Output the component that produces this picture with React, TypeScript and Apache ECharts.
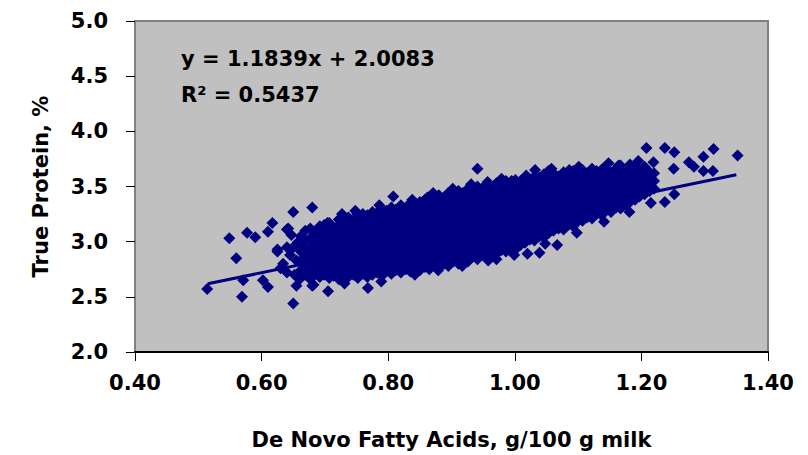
import React, { useEffect, useRef } from "react";
import * as echarts from "echarts";

// Axis ticks
const xTicks = [0.4, 0.6, 0.8, 1.0, 1.2, 1.4];
const yTicks = [2.0, 2.5, 3.0, 3.5, 4.0, 4.5, 5.0];

// Trendline (from the chart's equation)
const slope = 1.1839;
const intercept = 2.0083;
const rSquared = 0.5437;
const trendRange = [0.515, 1.35];

// Scattered points at the edges of the cloud (De Novo FA, True Protein)
const outlierX = [
  0.514, 0.549, 0.56, 0.569, 0.571, 0.577, 0.59, 0.602, 0.61, 0.61, 0.617, 0.625, 0.625, 0.63, 0.634,
  0.64, 0.64, 0.64, 0.642, 0.645, 0.647, 0.65, 0.65, 0.65, 0.652, 0.655, 0.655, 0.658, 0.66, 0.68,
  0.68, 0.682, 0.704, 0.705, 0.727, 0.751, 0.768, 0.808, 0.862, 0.941, 0.957, 0.971, 0.995, 1.02,
  1.032, 1.039, 1.053, 1.067, 1.086, 1.139, 1.164, 1.164, 1.195, 1.208, 1.215, 1.219, 1.237, 1.237,
  1.251, 1.252, 1.252, 1.275, 1.283, 1.298, 1.298, 1.313, 1.314, 1.352,
];
const outlierY = [
  2.57, 3.03, 2.85, 2.5, 2.65, 3.08, 3.04, 2.65, 3.09, 2.59, 3.17, 2.91, 2.93, 2.76, 2.8,
  2.72, 2.95, 3.11, 3.12, 2.88, 3.06, 3.27, 2.95, 2.44, 2.7, 2.83, 2.6, 3.0, 2.66, 3.31,
  2.6, 2.61, 3.17, 2.55, 3.25, 3.25, 2.58, 3.41, 3.4, 3.66, 3.54, 2.84, 3.55, 2.89,
  3.65, 2.9, 3.64, 2.97, 3.65, 3.66, 3.68, 3.69, 3.73, 3.85, 3.35, 3.72, 3.85, 3.36,
  3.66, 3.81, 3.43, 3.72, 3.68, 3.77, 3.64, 3.64, 3.84, 3.78,
];

// Ragged points along the upper and lower rims of the cloud
const rimX = [
  0.748, 0.786, 0.838, 0.871, 0.902, 0.931, 0.979, 1.018, 1.058, 1.101, 1.148,
  0.731, 0.789, 0.842, 0.879, 0.917, 0.958, 0.999, 1.048, 1.098, 1.141, 1.181,
];
const rimY = [
  3.28, 3.33, 3.38, 3.44, 3.48, 3.52, 3.57, 3.6, 3.66, 3.68, 3.71,
  2.62, 2.64, 2.7, 2.74, 2.78, 2.83, 2.88, 2.98, 3.08, 3.18, 3.27,
];

// Dense cloud, read column by column: [De Novo FA, True Protein values]
const cloud: [number, number[]][] = [
  [0.662, [2.74, 2.83, 2.91, 2.97, 3.05]],
  [0.669, [2.7, 2.79, 2.86, 2.94, 3.01, 3.1]],
  [0.677, [2.66, 2.76, 2.82, 2.89, 2.95, 3.03, 3.12]],
  [0.684, [2.71, 2.78, 2.84, 2.9, 2.97, 3.04, 3.09]],
  [0.692, [2.68, 2.74, 2.81, 2.87, 2.93, 2.99, 3.06, 3.14]],
  [0.699, [2.7, 2.76, 2.83, 2.88, 2.95, 3.01, 3.08, 3.15]],
  [0.707, [2.67, 2.73, 2.79, 2.85, 2.91, 2.97, 3.03, 3.1, 3.17]],
  [0.714, [2.69, 2.75, 2.81, 2.87, 2.93, 2.99, 3.05, 3.12]],
  [0.722, [2.66, 2.72, 2.78, 2.84, 2.9, 2.96, 3.02, 3.08, 3.15, 3.2]],
  [0.729, [2.7, 2.76, 2.82, 2.88, 2.94, 3.0, 3.06, 3.13, 3.18]],
  [0.737, [2.68, 2.73, 2.79, 2.85, 2.91, 2.97, 3.03, 3.09, 3.16, 3.22]],
  [0.745, [2.7, 2.76, 2.82, 2.88, 2.94, 3.0, 3.06, 3.12, 3.19]],
  [0.752, [2.67, 2.73, 2.79, 2.85, 2.91, 2.97, 3.03, 3.09, 3.15, 3.23]],
  [0.76, [2.71, 2.77, 2.83, 2.89, 2.95, 3.01, 3.07, 3.13, 3.2, 3.25]],
  [0.767, [2.68, 2.74, 2.8, 2.86, 2.92, 2.98, 3.04, 3.1, 3.17, 3.24]],
  [0.775, [2.7, 2.76, 2.82, 2.88, 2.94, 3.0, 3.06, 3.12, 3.18, 3.27]],
  [0.782, [2.72, 2.78, 2.84, 2.9, 2.96, 3.02, 3.08, 3.14, 3.21, 3.26]],
  [0.79, [2.69, 2.75, 2.81, 2.87, 2.93, 2.99, 3.05, 3.11, 3.17, 3.24, 3.29]],
  [0.797, [2.73, 2.79, 2.85, 2.91, 2.97, 3.03, 3.09, 3.15, 3.21, 3.28]],
  [0.805, [2.71, 2.77, 2.83, 2.89, 2.95, 3.01, 3.07, 3.13, 3.19, 3.25, 3.31]],
  [0.812, [2.74, 2.8, 2.86, 2.92, 2.98, 3.04, 3.1, 3.16, 3.22, 3.29]],
  [0.82, [2.72, 2.78, 2.84, 2.9, 2.96, 3.02, 3.08, 3.14, 3.2, 3.26, 3.33]],
  [0.828, [2.75, 2.81, 2.87, 2.93, 2.99, 3.05, 3.11, 3.17, 3.23, 3.3]],
  [0.835, [2.73, 2.79, 2.85, 2.91, 2.97, 3.03, 3.09, 3.15, 3.21, 3.27, 3.35]],
  [0.843, [2.76, 2.82, 2.88, 2.94, 3.0, 3.06, 3.12, 3.18, 3.24, 3.31]],
  [0.85, [2.74, 2.8, 2.86, 2.92, 2.98, 3.04, 3.1, 3.16, 3.22, 3.28, 3.36]],
  [0.858, [2.77, 2.83, 2.89, 2.95, 3.01, 3.07, 3.13, 3.19, 3.25, 3.32, 3.38]],
  [0.865, [2.75, 2.81, 2.87, 2.93, 2.99, 3.05, 3.11, 3.17, 3.23, 3.29, 3.35]],
  [0.873, [2.79, 2.85, 2.91, 2.97, 3.03, 3.09, 3.15, 3.21, 3.27, 3.33, 3.39]],
  [0.88, [2.77, 2.83, 2.89, 2.95, 3.01, 3.07, 3.13, 3.19, 3.25, 3.31, 3.37, 3.42]],
  [0.888, [2.8, 2.86, 2.92, 2.98, 3.04, 3.1, 3.16, 3.22, 3.28, 3.34, 3.4]],
  [0.895, [2.78, 2.84, 2.9, 2.96, 3.02, 3.08, 3.14, 3.2, 3.26, 3.32, 3.38, 3.44]],
  [0.903, [2.82, 2.88, 2.94, 3.0, 3.06, 3.12, 3.18, 3.24, 3.3, 3.36, 3.42]],
  [0.911, [2.8, 2.86, 2.92, 2.98, 3.04, 3.1, 3.16, 3.22, 3.28, 3.34, 3.4, 3.46]],
  [0.918, [2.84, 2.9, 2.96, 3.02, 3.08, 3.14, 3.2, 3.26, 3.32, 3.38, 3.44]],
  [0.926, [2.82, 2.88, 2.94, 3.0, 3.06, 3.12, 3.18, 3.24, 3.3, 3.36, 3.42, 3.48]],
  [0.933, [2.86, 2.92, 2.98, 3.04, 3.1, 3.16, 3.22, 3.28, 3.34, 3.4, 3.46]],
  [0.941, [2.84, 2.9, 2.96, 3.02, 3.08, 3.14, 3.2, 3.26, 3.32, 3.38, 3.44, 3.5]],
  [0.948, [2.88, 2.94, 3.0, 3.06, 3.12, 3.18, 3.24, 3.3, 3.36, 3.42, 3.48]],
  [0.956, [2.87, 2.93, 2.99, 3.05, 3.11, 3.17, 3.23, 3.29, 3.35, 3.41, 3.47, 3.52]],
  [0.963, [2.9, 2.96, 3.02, 3.08, 3.14, 3.2, 3.26, 3.32, 3.38, 3.44, 3.5]],
  [0.971, [2.89, 2.95, 3.01, 3.07, 3.13, 3.19, 3.25, 3.31, 3.37, 3.43, 3.49, 3.53]],
  [0.978, [2.92, 2.98, 3.04, 3.1, 3.16, 3.22, 3.28, 3.34, 3.4, 3.46, 3.51]],
  [0.986, [2.91, 2.97, 3.03, 3.09, 3.15, 3.21, 3.27, 3.33, 3.39, 3.45, 3.5, 3.55]],
  [0.994, [2.94, 3.0, 3.06, 3.12, 3.18, 3.24, 3.3, 3.36, 3.42, 3.48, 3.53]],
  [1.001, [2.93, 2.99, 3.05, 3.11, 3.17, 3.23, 3.29, 3.35, 3.41, 3.47, 3.52, 3.56]],
  [1.009, [2.97, 3.03, 3.09, 3.15, 3.21, 3.27, 3.33, 3.39, 3.45, 3.51, 3.55]],
  [1.016, [2.99, 3.05, 3.11, 3.17, 3.23, 3.29, 3.35, 3.41, 3.47, 3.53, 3.57]],
  [1.024, [3.02, 3.08, 3.14, 3.2, 3.26, 3.32, 3.38, 3.44, 3.5, 3.55]],
  [1.031, [3.01, 3.07, 3.13, 3.19, 3.25, 3.31, 3.37, 3.43, 3.49, 3.54, 3.59]],
  [1.039, [3.05, 3.11, 3.17, 3.23, 3.29, 3.35, 3.41, 3.47, 3.53, 3.58]],
  [1.046, [3.04, 3.1, 3.16, 3.22, 3.28, 3.34, 3.4, 3.46, 3.52, 3.57, 3.61]],
  [1.054, [3.08, 3.14, 3.2, 3.26, 3.32, 3.38, 3.44, 3.5, 3.56, 3.6]],
  [1.061, [3.1, 3.16, 3.22, 3.28, 3.34, 3.4, 3.46, 3.52, 3.57, 3.62]],
  [1.069, [3.12, 3.18, 3.24, 3.3, 3.36, 3.42, 3.48, 3.54, 3.59]],
  [1.077, [3.11, 3.17, 3.23, 3.29, 3.35, 3.41, 3.47, 3.53, 3.58, 3.63]],
  [1.084, [3.15, 3.21, 3.27, 3.33, 3.39, 3.45, 3.51, 3.57, 3.61]],
  [1.092, [3.14, 3.2, 3.26, 3.32, 3.38, 3.44, 3.5, 3.56, 3.6, 3.64]],
  [1.099, [3.18, 3.24, 3.3, 3.36, 3.42, 3.48, 3.54, 3.59, 3.63]],
  [1.107, [3.19, 3.25, 3.31, 3.37, 3.43, 3.49, 3.55, 3.6, 3.65]],
  [1.114, [3.22, 3.28, 3.34, 3.4, 3.46, 3.52, 3.58, 3.62]],
  [1.122, [3.21, 3.27, 3.33, 3.39, 3.45, 3.51, 3.57, 3.61, 3.66]],
  [1.129, [3.25, 3.31, 3.37, 3.43, 3.49, 3.55, 3.6, 3.64]],
  [1.137, [3.24, 3.3, 3.36, 3.42, 3.48, 3.54, 3.59, 3.65]],
  [1.144, [3.28, 3.34, 3.4, 3.46, 3.52, 3.58, 3.63, 3.67]],
  [1.152, [3.27, 3.33, 3.39, 3.45, 3.51, 3.57, 3.62]],
  [1.16, [3.31, 3.37, 3.43, 3.49, 3.55, 3.61, 3.66]],
  [1.167, [3.3, 3.36, 3.42, 3.48, 3.54, 3.6, 3.65, 3.69]],
  [1.175, [3.34, 3.4, 3.46, 3.52, 3.58, 3.63]],
  [1.182, [3.36, 3.42, 3.48, 3.54, 3.6, 3.66, 3.7]],
  [1.19, [3.38, 3.44, 3.5, 3.56, 3.62, 3.67]],
  [1.197, [3.41, 3.47, 3.53, 3.59, 3.64]],
  [1.205, [3.43, 3.49, 3.55, 3.61, 3.68]],
  [1.213, [3.46, 3.52, 3.58, 3.63]],
  [1.22, [3.48, 3.55, 3.62]],
];

const FONT = "'DejaVu Sans', sans-serif";
const NAVY = "#000080";

export default function App() {
  const ref = useRef<HTMLDivElement>(null);
  useEffect(() => {
    if (!ref.current) return;
    const chart = echarts.init(ref.current, null, { renderer: "svg" });
    const points: number[][] = [];
    cloud.forEach(([x, ys]) => ys.forEach((y) => points.push([x, y])));
    outlierX.forEach((x, i) => points.push([x, outlierY[i]]));
    rimX.forEach((x, i) => points.push([x, rimY[i]]));
    const trend = trendRange.map((x) => [x, slope * x + intercept]);

    chart.setOption({
      animation: false,
      backgroundColor: "#ffffff",
      grid: {
        left: 135,
        right: 40,
        top: 21,
        bottom: 103,
        show: true,
        backgroundColor: "#C0C0C0",
        borderColor: "#808080",
        borderWidth: 2,
      },
      xAxis: {
        type: "value",
        min: xTicks[0],
        max: xTicks[xTicks.length - 1],
        interval: 0.2,
        name: "De Novo Fatty Acids, g/100 g milk",
        nameLocation: "middle",
        nameGap: 77,
        nameTextStyle: { fontFamily: FONT, fontWeight: "bold", fontSize: 21, color: "#000" },
        axisLine: { show: true, onZero: false, lineStyle: { color: "#000", width: 2 } },
        axisTick: { show: true, inside: false, length: 9, lineStyle: { color: "#000", width: 1 } },
        axisLabel: {
          margin: 20,
          fontFamily: FONT,
          fontWeight: "bold",
          fontSize: 21,
          color: "#000",
          formatter: (v: number) => v.toFixed(2),
        },
        splitLine: { show: false },
      },
      yAxis: {
        type: "value",
        min: yTicks[0],
        max: yTicks[yTicks.length - 1],
        interval: 0.5,
        name: "True Protein, %",
        nameLocation: "middle",
        nameGap: 84,
        nameRotate: 90,
        nameTextStyle: { fontFamily: FONT, fontWeight: "bold", fontSize: 21, color: "#000" },
        axisLine: { show: true, onZero: false, lineStyle: { color: "#808080", width: 2 } },
        axisTick: { show: true, inside: false, length: 9, lineStyle: { color: "#000", width: 1 } },
        axisLabel: {
          margin: 27,
          fontFamily: FONT,
          fontWeight: "bold",
          fontSize: 21,
          color: "#000",
          formatter: (v: number) => v.toFixed(1),
        },
        splitLine: { show: false },
      },
      graphic: [
        {
          type: "text",
          left: 181,
          top: 48,
          style: {
            text: `y = ${slope.toFixed(4)}x + ${intercept.toFixed(4)}`,
            font: `bold 21px ${FONT}`,
            fill: "#000",
          },
          z: 100,
        },
        {
          type: "text",
          left: 181,
          top: 84,
          style: {
            text: `R² = ${rSquared.toFixed(4)}`,
            font: `bold 21px ${FONT}`,
            fill: "#000",
          },
          z: 100,
        },
      ],
      series: [
        {
          type: "line",
          data: trend,
          symbol: "none",
          lineStyle: { color: NAVY, width: 3 },
          z: 1,
          silent: true,
        },
        {
          type: "scatter",
          data: points,
          symbol: "diamond",
          symbolSize: 12,
          itemStyle: { color: NAVY, opacity: 1 },
          z: 2,
          silent: true,
        },
      ],
    });
    return () => chart.dispose();
  }, []);
  return (
    <div
      ref={ref}
      style={{ position: "absolute", left: 0, top: 0, width: 808, height: 455 }}
    />
  );
}
